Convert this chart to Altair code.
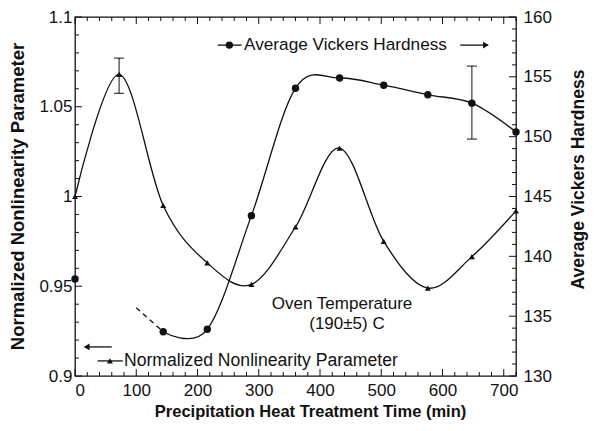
import altair as alt
import pandas as pd

# ---- data ----
time_nnp = [0, 72, 144, 216, 288, 360, 432, 504, 576, 648, 720]
nnp = [1.000, 1.068, 0.995, 0.963, 0.951, 0.983, 1.027, 0.975, 0.949, 0.9665, 0.992]

time_hv = [0, 144, 216, 288, 360, 432, 504, 576, 648, 720]
hv = [138.1, 133.7, 133.9, 143.4, 154.05, 154.9, 154.3, 153.5, 152.8, 150.4]

hv_dash_t = [100, 144]
hv_dash = [135.7, 133.7]

nnp_err_t = [72]
nnp_err_lo = [1.0575]
nnp_err_hi = [1.0771]

hv_err_t = [648]
hv_err_lo = [149.8]
hv_err_hi = [155.9]

x_major = [0, 100, 200, 300, 400, 500, 600, 700]
x_minor = [v for v in range(0, 721, 20) if v % 100 != 0]
nnp_major = [0.9, 0.95, 1.0, 1.05, 1.1]
nnp_minor = [round(0.9 + 0.01 * i, 2) for i in range(21) if i % 5 != 0]
hv_major = [130, 135, 140, 145, 150, 155, 160]
hv_minor = [v for v in range(130, 161) if v % 5 != 0]

W, H = 441, 359
FONT = "Liberation Sans"
INK = "#111111"

xscale = alt.Scale(domain=[0, 720], nice=False, zero=False)
lscale = alt.Scale(domain=[0.9, 1.1], nice=False, zero=False)
rscale = alt.Scale(domain=[130, 160], nice=False, zero=False)

xaxis = alt.Axis(values=x_major, ticks=False, domain=False, grid=False,
                 labelFontSize=17, labelPadding=6, labelFont=FONT,
                 title="Precipitation Heat Treatment Time (min)",
                 titleFontSize=16.5, titleFontWeight="bold", titleFont=FONT,
                 titleX=235, titleY=35, titleAlign="center",
                 titleBaseline="middle")
laxis = alt.Axis(values=nnp_major, format="~g", orient="left", ticks=False,
                 domain=False, grid=False, labelFontSize=17, labelPadding=3,
                 labelFont=FONT,
                 title="Normalized Nonlinearity Parameter", titleFontSize=18.5,
                 titleFontWeight="bold", titleFont=FONT, titleX=-58,
                 titleY=179, titleAngle=-90, titleAlign="center",
                 titleBaseline="middle")
raxis = alt.Axis(values=hv_major, orient="right", ticks=False, domain=False,
                 grid=False, labelFontSize=17, labelPadding=7, labelFont=FONT,
                 title="Average Vickers Hardness", titleFontSize=17.5,
                 titleFontWeight="bold", titleFont=FONT, titleX=62,
                 titleY=162, titleAngle=-90, titleAlign="center",
                 titleBaseline="middle")


def X(f):
    return alt.X(f"{f}:Q", scale=xscale, axis=xaxis,
                 title="Precipitation Heat Treatment Time (min)")


def YL(f, axis=None):
    return alt.Y(f"{f}:Q", scale=lscale, axis=axis)


def YR(f, axis=None):
    return alt.Y(f"{f}:Q", scale=rscale, axis=axis)


df_nnp = pd.DataFrame({"t": time_nnp, "v": nnp})
df_hv = pd.DataFrame({"t": time_hv, "v": hv})
df_hv_line = df_hv.iloc[1:]
df_hv_dash = pd.DataFrame({"t": hv_dash_t, "v": hv_dash})
df_nnp_err = pd.DataFrame({"t": nnp_err_t, "lo": nnp_err_lo, "hi": nnp_err_hi})
df_hv_err = pd.DataFrame({"t": hv_err_t, "lo": hv_err_lo, "hi": hv_err_hi})

layers = []

# curves and markers
layers.append(alt.Chart(df_nnp).mark_line(interpolate="cardinal", color=INK, strokeWidth=1.3)
              .encode(x=X("t"), y=YL("v", laxis)))
layers.append(alt.Chart(df_nnp).mark_point(shape="triangle-up", filled=True, size=36, color=INK, opacity=1)
              .encode(x=X("t"), y=YL("v")))
layers.append(alt.Chart(df_hv_line).mark_line(interpolate="cardinal", color=INK, strokeWidth=1.3)
              .encode(x=X("t"), y=YR("v", raxis)))
layers.append(alt.Chart(df_hv_dash).mark_line(color=INK, strokeWidth=1.3, strokeDash=[5, 4])
              .encode(x=X("t"), y=YR("v")))
layers.append(alt.Chart(df_hv).mark_circle(size=55, color=INK, opacity=1)
              .encode(x=X("t"), y=YR("v")))

# error bars
layers.append(alt.Chart(df_nnp_err).mark_rule(color=INK, strokeWidth=1)
              .encode(x=X("t"), y=YL("lo"), y2="hi:Q"))
for f in ["lo", "hi"]:
    layers.append(alt.Chart(df_nnp_err).mark_tick(orient="horizontal", size=10, thickness=1, color=INK, opacity=1)
                  .encode(x=X("t"), y=YL(f)))
layers.append(alt.Chart(df_hv_err).mark_rule(color=INK, strokeWidth=1)
              .encode(x=X("t"), y=YR("lo"), y2="hi:Q"))
for f in ["lo", "hi"]:
    layers.append(alt.Chart(df_hv_err).mark_tick(orient="horizontal", size=10, thickness=1, color=INK, opacity=1)
                  .encode(x=X("t"), y=YR(f)))

# inward ticks on all four sides
MAJ, MIN = 7, 4
for vals, ln in [(x_major, MAJ), (x_minor, MIN)]:
    d = pd.DataFrame({"v": vals})
    layers.append(alt.Chart(d).mark_rule(color=INK, strokeWidth=1)
                  .encode(x=X("v"), y=alt.value(H), y2=alt.value(H - ln)))
    layers.append(alt.Chart(d).mark_rule(color=INK, strokeWidth=1)
                  .encode(x=X("v"), y=alt.value(0), y2=alt.value(ln)))
for vals, ln in [(nnp_major, MAJ), (nnp_minor, MIN)]:
    d = pd.DataFrame({"v": vals})
    layers.append(alt.Chart(d).mark_rule(color=INK, strokeWidth=1)
                  .encode(y=YL("v"), x=alt.value(0), x2=alt.value(ln)))
for vals, ln in [(hv_major, MAJ), (hv_minor, MIN)]:
    d = pd.DataFrame({"v": vals})
    layers.append(alt.Chart(d).mark_rule(color=INK, strokeWidth=1)
                  .encode(y=YR("v"), x=alt.value(W), x2=alt.value(W - ln)))

# in-plot legends and annotation (anchored in data coordinates)
leg_hv_line = pd.DataFrame({"t": [233, 272], "v": [157.65, 157.65]})
leg_hv_dot = pd.DataFrame({"t": [252], "v": [157.65]})
leg_hv_text = pd.DataFrame({"t": [276], "v": [157.65], "s": ["Average Vickers Hardness"]})
leg_hv_arrow = pd.DataFrame({"t": [629, 670], "v": [157.65, 157.65]})
leg_hv_head = pd.DataFrame({"t": [671], "v": [157.65]})

leg_n_line = pd.DataFrame({"t": [37, 78], "v": [0.9084, 0.9084]})
leg_n_tri = pd.DataFrame({"t": [57], "v": [0.9084]})
leg_n_text = pd.DataFrame({"t": [80], "v": [0.9084], "s": ["Normalized Nonlinearity Parameter"]})
leg_n_arrow = pd.DataFrame({"t": [20, 60], "v": [0.9162, 0.9162]})
leg_n_head = pd.DataFrame({"t": [19], "v": [0.9162]})

oven = pd.DataFrame({"t": [436, 444], "v": [0.9402, 0.929],
                     "s": ["Oven Temperature", "(190±5) C"]})

layers.append(alt.Chart(leg_hv_line).mark_line(color=INK, strokeWidth=1.3).encode(x=X("t"), y=YR("v")))
layers.append(alt.Chart(leg_hv_dot).mark_circle(size=55, color=INK, opacity=1).encode(x=X("t"), y=YR("v")))
layers.append(alt.Chart(leg_hv_text).mark_text(align="left", baseline="middle", font=FONT, fontSize=17.2, color=INK)
              .encode(x=X("t"), y=YR("v"), text="s:N"))
layers.append(alt.Chart(leg_hv_arrow).mark_line(color=INK, strokeWidth=1.3).encode(x=X("t"), y=YR("v")))
layers.append(alt.Chart(leg_hv_head).mark_point(shape="triangle-right", filled=True, size=45, color=INK, opacity=1)
              .encode(x=X("t"), y=YR("v")))

layers.append(alt.Chart(leg_n_line).mark_line(color=INK, strokeWidth=1.3).encode(x=X("t"), y=YL("v")))
layers.append(alt.Chart(leg_n_tri).mark_point(shape="triangle-up", filled=True, size=36, color=INK, opacity=1)
              .encode(x=X("t"), y=YL("v")))
layers.append(alt.Chart(leg_n_text).mark_text(align="left", baseline="middle", font=FONT, fontSize=17.6, color=INK)
              .encode(x=X("t"), y=YL("v"), text="s:N"))
layers.append(alt.Chart(leg_n_arrow).mark_line(color=INK, strokeWidth=1.3).encode(x=X("t"), y=YL("v")))
layers.append(alt.Chart(leg_n_head).mark_point(shape="triangle-left", filled=True, size=45, color=INK, opacity=1)
              .encode(x=X("t"), y=YL("v")))

layers.append(alt.Chart(oven).mark_text(align="center", baseline="middle", font=FONT, fontSize=17, color=INK)
              .encode(x=X("t"), y=YL("v"), text="s:N"))

chart = (
    alt.layer(*layers)
    .resolve_scale(y="independent")
    .resolve_axis(y="independent")
    .properties(width=W, height=H,
                autosize=alt.AutoSizeParams(type="none"),
                padding={"left": 67, "top": 9, "right": 74, "bottom": 47},
                background="white")
    .configure_view(stroke=INK, strokeWidth=1.3)
    .configure_axis(labelColor=INK, titleColor=INK)
)

chart.save("out.html", embed_options={"renderer": "svg", "actions": False})
